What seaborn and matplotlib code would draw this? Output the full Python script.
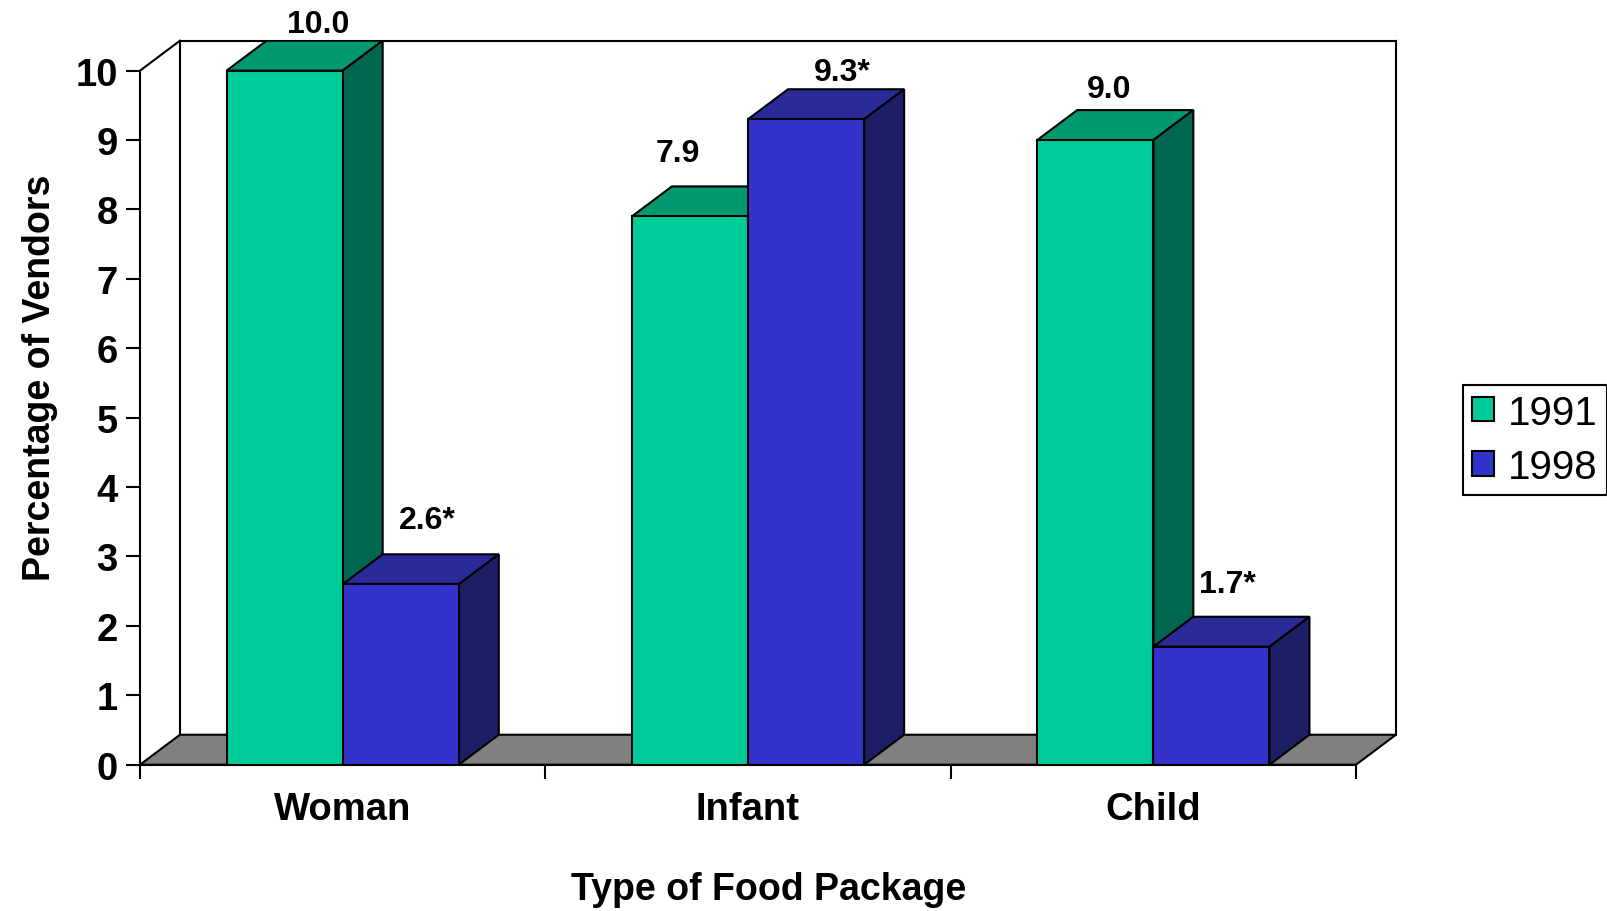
import matplotlib
matplotlib.use("Agg")
import matplotlib.pyplot as plt
from matplotlib.patches import Polygon
import pandas as pd
import seaborn as sns

# ---- data ----
packages = ["Woman", "Infant", "Child"]
years = ["1991", "1998"]
pct_1991 = [10.0, 7.9, 9.0]
pct_1998 = [2.6, 9.3, 1.7]
stars_1991 = ["", "", ""]
stars_1998 = ["*", "*", "*"]
y_ticks = list(range(0, 11))

# ---- styling ----
front_colors = ["#00CC99", "#3333CC"]
top_colors = ["#00996F", "#2A2A99"]
side_colors = ["#006650", "#1E1E66"]
floor_color = "#808080"

# value-label placement relative to the bar's top-front centre (x in category units, y in data units)
label_dx = [[0.082, -0.031, 0.034], [0.065, 0.090, 0.040]]
label_dy = [[0.56, 0.80, 0.62], [0.81, 0.57, 0.79]]

DX, DY = 0.0987, 0.432  # depth of the pseudo-3D extrusion

sns.set_theme(style="ticks")
plt.rcParams["font.family"] = ["Liberation Sans", "DejaVu Sans"]
plt.rcParams.update({
    "text.color": "black",
    "axes.labelcolor": "black",
    "xtick.color": "black",
    "ytick.color": "black",
})

df = pd.DataFrame({
    "package": packages * 2,
    "year": [years[0]] * 3 + [years[1]] * 3,
    "pct": pct_1991 + pct_1998,
})

fig = plt.figure(figsize=(16.08, 9.12), dpi=100)
ax = fig.add_axes([0.08706, 0.1604, 0.7811, 0.7939])

sns.barplot(data=df, x="package", y="pct", hue="year", order=packages,
            hue_order=years, palette=front_colors, saturation=1, width=0.573,
            edgecolor="black", linewidth=1.5, zorder=4, ax=ax)

ax.set_xlim(-0.5, 2.5 + DX)
ax.set_ylim(0, 10 + DY)

# floor
ax.add_patch(Polygon([(-0.5, 0), (2.5, 0), (2.5 + DX, DY), (-0.5 + DX, DY)],
                     closed=True, fc=floor_color, ec="black", lw=1.5, zorder=1))
# back and side walls
wall_kw = dict(color="black", lw=1.5, zorder=0.5, clip_on=False, solid_capstyle="projecting")
ax.plot([-0.5 + DX, -0.5 + DX], [DY, 10 + DY], **wall_kw)
ax.plot([-0.5 + DX, 2.5 + DX], [10 + DY, 10 + DY], **wall_kw)
ax.plot([2.5 + DX, 2.5 + DX], [DY, 10 + DY], **wall_kw)
ax.plot([-0.5, -0.5 + DX], [10, 10 + DY], **wall_kw)

# top and side faces of each bar, plus value labels
stars = [stars_1991, stars_1998]
for k, (container, tc, sc) in enumerate(zip(ax.containers, top_colors, side_colors)):
    for i, bar in enumerate(container):
        x0 = bar.get_x()
        x1 = x0 + bar.get_width()
        h = bar.get_height()
        z = 2 + k
        ax.add_patch(Polygon([(x0, h), (x1, h), (x1 + DX, h + DY), (x0 + DX, h + DY)],
                             closed=True, fc=tc, ec="black", lw=1.5, zorder=z))
        ax.add_patch(Polygon([(x1, 0), (x1, h), (x1 + DX, h + DY), (x1 + DX, DY)],
                             closed=True, fc=sc, ec="black", lw=1.5, zorder=z))
        ax.text((x0 + x1) / 2 + label_dx[k][i], h + label_dy[k][i],
                f"{h:.1f}{stars[k][i]}", ha="center", va="baseline",
                fontsize=23, fontweight="bold", color="black", zorder=6, clip_on=False)

# axes lines and ticks
for s in ["top", "right"]:
    ax.spines[s].set_visible(False)
ax.spines["left"].set_bounds(0, 10)
ax.spines["bottom"].set_bounds(-0.5, 2.5)
for s in ["left", "bottom"]:
    ax.spines[s].set_linewidth(1.5)
    ax.spines[s].set_color("black")
    ax.spines[s].set_zorder(5)

ax.set_yticks(y_ticks, labels=[str(v) for v in y_ticks], fontsize=27.5, fontweight="bold")
ax.tick_params(axis="y", which="major", length=10, width=1.5, pad=6, color="black", left=True)
ax.set_xticks(range(len(packages)), labels=packages, fontsize=27.5, fontweight="bold")
ax.set_xticks([-0.5, 0.5, 1.5, 2.5], minor=True)
ax.tick_params(axis="x", which="major", length=0, pad=19)
ax.tick_params(axis="x", which="minor", length=10, width=1.5, color="black", bottom=True)

ax.set_ylabel("Percentage of Vendors", fontsize=27, fontweight="bold")
ax.yaxis.set_label_coords(40 / 1608, 1 - 378 / 912, transform=fig.transFigure)
ax.yaxis.label.set_va("center")
ax.set_xlabel("Type of Food Package", fontsize=27, fontweight="bold")
ax.xaxis.set_label_coords(769 / 1608, 1 - 890 / 912, transform=fig.transFigure)
ax.xaxis.label.set_va("center")

sns.move_legend(ax, "upper left", bbox_to_anchor=(1463 / 1608, 1 - 385.7 / 912),
                bbox_transform=fig.transFigure, borderaxespad=0, title=None,
                frameon=True, fancybox=False, framealpha=1, fontsize=29,
                handlelength=0.55, handleheight=0.55, handletextpad=0.35,
                borderpad=0.22, labelspacing=0.4)
leg = ax.get_legend()
leg.get_frame().set_edgecolor("black")
leg.get_frame().set_linewidth(1.5)
for h in leg.legend_handles:
    h.set_edgecolor("black")
    h.set_linewidth(1.5)

fig.savefig("out.png", dpi=100, facecolor="white")
